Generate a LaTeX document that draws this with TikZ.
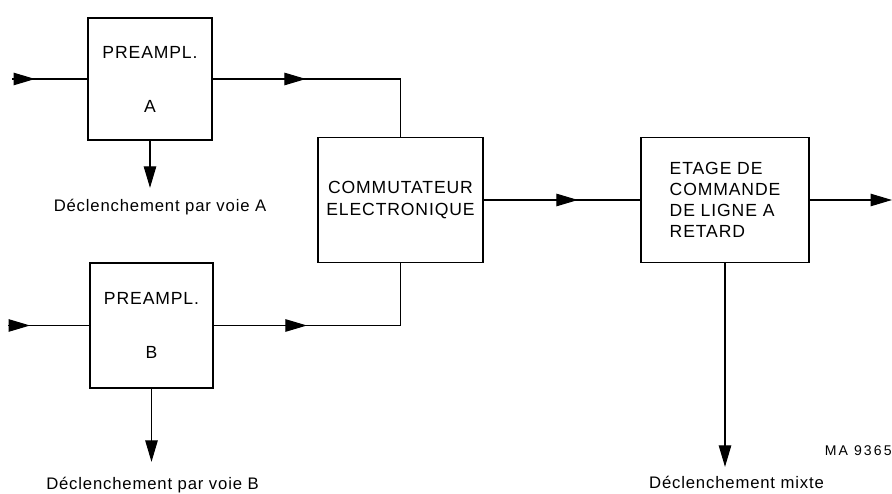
\documentclass[tikz,border=0pt]{standalone}
\usepackage{fontspec}
\setmainfont{Liberation Sans}[LetterSpace=5]
\usetikzlibrary{arrows.meta,decorations.markings}

\tikzset{
  bloc/.style={draw,line width=1pt,minimum width=#1,minimum height=2.5cm,
    inner sep=0pt,align=center,font=\fontsize{10}{12}\selectfont},
  sig/.style={line width=0.6pt,>={Triangle[length=4.3mm,width=2.5mm]}},
  arrowat/.style={postaction={decorate},decoration={markings,
    mark=at position #1 with {\arrow{Triangle[length=4.3mm,width=2.5mm]}}}},
  lbl/.style={inner sep=0pt,font=\fontsize{9.5}{11}\selectfont}
}

\begin{document}
\begin{tikzpicture}[]

\useasboundingbox (0,0) rectangle (17.84,9.88);

% blocs
\node[bloc=2.48cm,minimum height=2.44cm] (pA) at (3.0,8.3) {PREAMPL.\\[18.7pt]A};
\node[bloc=2.46cm] (pB) at (3.03,3.37) {PREAMPL.\\[18.7pt]B};
\node[bloc=3.3cm] (comm) at (8.01,5.88) {COMMUTATEUR\\ELECTRONIQUE};
\node[bloc=3.36cm,align=left] (etage) at (14.5,5.88) {ETAGE DE\\COMMANDE\\DE LIGNE A\\RETARD};

% sorties de declenchement
\node[lbl,anchor=base] (labA) at (3.2,5.64) {Déclenchement par voie A};
\node[lbl,anchor=base] (labB) at (3.05,0.09) {Déclenchement par voie B};
\node[lbl,anchor=base] (labM) at (14.73,0.1) {Déclenchement mixte};
\node[inner sep=0pt,anchor=base east,font=\fontsize{8}{9}\selectfont\addfontfeature{LetterSpace=15}] (ref) at (17.84,0.76) {MA 9365};

\coordinate (inA) at (0.24,8.3);
\coordinate (inB) at (0.16,3.37);
\coordinate (out) at (17.84,5.88);

% liaisons
\draw[sig,arrowat=0.46cm] (inA) -- (pA.west);
\draw[sig,arrowat=0.44cm] (inB) -- (pB.west);
\draw[sig,arrowat=1.86cm] (pA.east) -| (comm.north);
\draw[sig,arrowat=1.86cm] (pB.east) -| (comm.south);
\draw[sig,arrowat=1.88cm] (comm.east) -- (etage.west);
\draw[sig,->] (etage.east) -- (out);

\draw[sig,->,shorten >=0.23cm] (pA.south) -- (pA.south |- labA.north);
\draw[sig,->,shorten >=0.30cm] (pB.south) -- (pB.south |- labB.north);
\draw[sig,->,shorten >=0.19cm] (etage.south) -- (etage.south |- labM.north);

\end{tikzpicture}
\end{document}
